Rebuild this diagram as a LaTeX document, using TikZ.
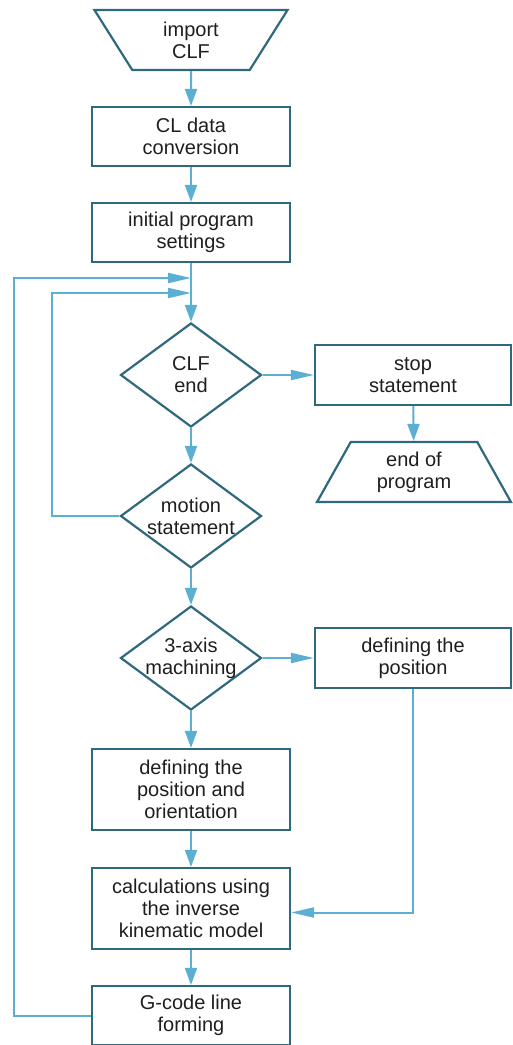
\documentclass[tikz,border=0pt]{standalone}
\usepackage{fontspec}
\setmainfont{Liberation Sans}
\usetikzlibrary{shapes.geometric, arrows.meta}

\definecolor{boxline}{HTML}{30687E}
\definecolor{arrowblue}{HTML}{5AAFD3}
\definecolor{textdark}{HTML}{1E1E1E}

\begin{document}
\begin{tikzpicture}[
    x = 1pt, y = -1pt,
    %
    every node/.style = {font = \fontsize{20}{22}\selectfont,
      text = textdark, align = center},
    %
    process/.style = {draw = boxline, line width = 2.2pt,
      minimum width = 198pt, minimum height = 59pt, inner sep = 0pt},
    decision/.style = {diamond, draw = boxline, line width = 2.2pt,
      minimum width = 141pt, minimum height = 104pt, inner sep = -10pt},
    inout/.style = {trapezium, draw = boxline, line width = 2.2pt,
      trapezium stretches = true, trapezium left angle = 64,
      trapezium right angle = 64, minimum width = 194pt,
      minimum height = 60pt, inner sep = 0pt},
    %
    flow/.style = {draw = arrowblue, line width = 2pt,
      -{Triangle[length = 17pt, width = 12pt]}},
    sideflow/.style = {draw = arrowblue, line width = 2pt,
      -{Triangle[length = 23pt, width = 10pt]}},
    ]

    \useasboundingbox (0, 0) rectangle (512, 1045);

    % main column
    \node at (191, 40)
    [inout, shape border rotate = 180, name = import] {import\\CLF};
    \node at (191, 136.5)
    [process, name = convert] {CL data\\conversion};
    \node at (191, 232.5)
    [process, name = settings] {initial program\\settings};

    \node at (191, 375)
    [decision, name = clfend] {CLF\\end};
    \node at (191, 516)
    [decision, name = motion] {motion\\statement};
    \node at (191, 658)
    [decision, name = threeaxis] {3-axis\\machining};

    \node at (191, 789.5)
    [process, minimum height = 81pt, name = orient]
    {defining the\\position and\\orientation};
    \node at (191, 908.5)
    [process, minimum height = 81pt, name = inverse]
    {calculations using\\the inverse\\kinematic model};
    \node at (191, 1015.5)
    [process, name = gcode] {G-code line\\forming};

    % right column
    \node at (413, 375)
    [process, minimum width = 196pt, minimum height = 60pt, name = stop]
    {stop\\statement};
    \node at (414, 472)
    [inout, name = progend] {end of\\program};
    \node at (413, 658)
    [process, minimum width = 196pt, minimum height = 60pt, name = position]
    {defining the\\position};

    \coordinate (loopA) at (191, 278);
    \coordinate (loopB) at (191, 293);

    \draw [flow] (import) -- (convert);
    \draw [flow] (convert) -- (settings);
    \draw [flow] (settings) -- (clfend);
    \draw [flow] (clfend) -- (motion);
    \draw [flow] (motion) -- (threeaxis);
    \draw [flow] (threeaxis) -- (orient);
    \draw [flow] (orient) -- (inverse);
    \draw [flow] (inverse) -- (gcode);

    \draw [sideflow] (clfend) -- (stop);
    \draw [flow] (stop) -- (progend);
    \draw [sideflow] (threeaxis) -- (position);
    \draw [sideflow] (position.south) |- ([yshift = -4pt]inverse.east);

    % loops back
    \draw [sideflow] (motion.west) -- ++(-67, 0) |- (loopB);
    \draw [sideflow] (gcode.west) -- ++(-77, 0) |- (loopA);

  \end{tikzpicture}
\end{document}
